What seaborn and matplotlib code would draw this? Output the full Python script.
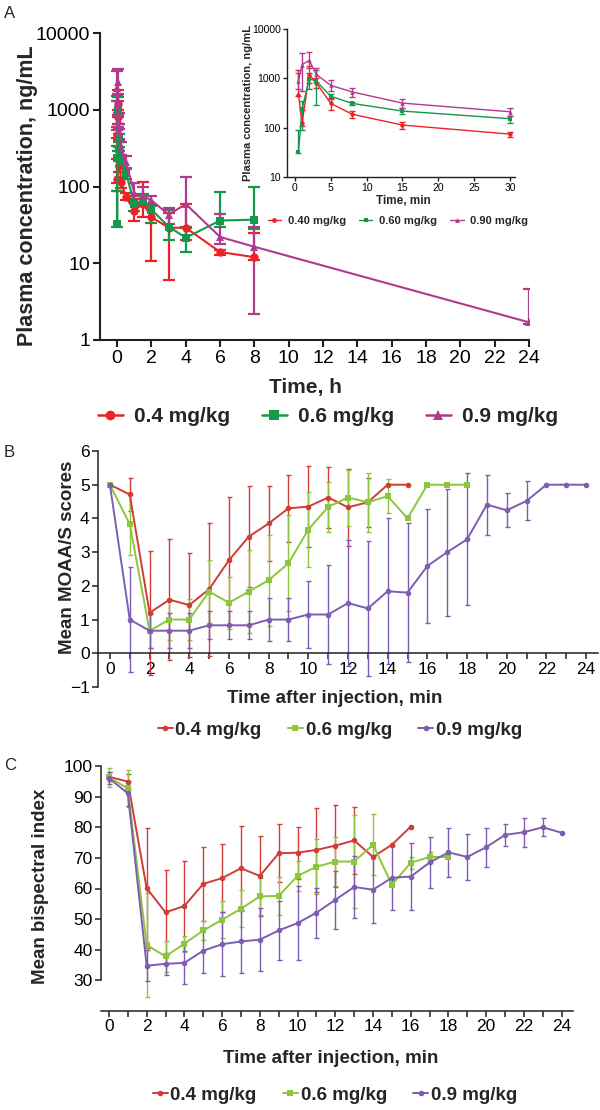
import numpy as np
import pandas as pd
import matplotlib
matplotlib.use('Agg')
import matplotlib.pyplot as plt
from matplotlib.lines import Line2D
from matplotlib.ticker import FixedLocator, MultipleLocator, NullLocator, FuncFormatter
import seaborn as sns

# ---------------- Panel A data (plasma concentration, ng/mL) ----------------
doses_a = ['0.4 mg/kg', '0.6 mg/kg', '0.9 mg/kg']
doses_inset = ['0.40 mg/kg', '0.60 mg/kg', '0.90 mg/kg']
t_min = [0.5, 1, 2, 3, 5, 8, 15, 30]            # minutes (inset + early points)
t_hours = [1, 1.5, 2, 3, 4, 6, 8]               # hours (0.4 and 0.6 mg/kg)
t_hours_09 = [1, 1.5, 2, 3, 4, 6, 8, 24]        # hours (0.9 mg/kg)

red_min = [470, 125, 1180, 810, 310, 187, 113, 74]
red_min_lo = [430, 110, 800, 650, 230, 155, 95, 66]
red_min_hi = [1500, 230, 1800, 1000, 400, 215, 130, 82]
green_min = [32, 235, 990, 870, 435, 310, 217, 152]
green_min_lo = [30, 88, 600, 290, 380, 290, 185, 125]
green_min_hi = [88, 340, 1300, 1450, 490, 330, 245, 175]
mag_min = [900, 1900, 2300, 1200, 720, 530, 315, 210]
mag_min_lo = [600, 550, 1600, 850, 560, 420, 255, 170]
mag_min_hi = [1300, 3200, 3400, 1600, 920, 650, 375, 250]

red_h = [48, 60, 40, 29, 29, 14, 12]
red_h_lo = [36, 40, 10.8, 6, 20, 13, 11]
red_h_hi = [68, 115, 58, 45, 60, 15, 25]
green_h = [60, 65, 50, 30, 21.5, 36, 37]
green_h_lo = [48, 55, 33, 20, 14, 30, 28]
green_h_hi = [75, 80, 58, 50, 30, 84, 100]
mag_h = [82, 75, 66, 43, 59, 22, 16.4, 1.7]
mag_h_lo = [62, 60, 55, 32, 29, 18, 2.2, 1.6]
mag_h_hi = [112, 100, 75, 52, 133, 44, 30, 4.6]

# ---------------- Panel B data (MOAA/S scores) ----------------
doses_bc = ['0.4 mg/kg', '0.6 mg/kg', '0.9 mg/kg']
t_b_red = list(range(0, 16))
t_b_green = list(range(0, 19))
t_b_purple = list(range(0, 25))
moaas_red = [5.0, 4.71, 1.2, 1.59, 1.43, 1.9, 2.76, 3.46, 3.85, 4.3, 4.35, 4.62, 4.33, 4.48, 5.0, 5.0]
moaas_red_sd = [0, 0.5, 1.83, 1.79, 1.53, 1.97, 1.88, 1.5, 1.1, 1.0, 1.2, 0.9, 1.15, 0.72, 0, 0]
moaas_green = [5.0, 3.83, 0.67, 1.0, 1.0, 1.83, 1.5, 1.83, 2.17, 2.67, 3.67, 4.34, 4.62, 4.48, 4.66, 4.0, 5.0, 5.0, 5.0]
moaas_green_sd = [0, 0.9, 0.5, 0.6, 0.6, 0.93, 0.77, 1.23, 1.35, 1.43, 1.12, 0.74, 0.83, 0.88, 0.5, 0, 0, 0, 0]
moaas_purple = [5.0, 1.0, 0.67, 0.67, 0.67, 0.83, 0.83, 0.83, 1.0, 1.0, 1.15, 1.15, 1.49, 1.33, 1.84, 1.8,
                2.59, 3.0, 3.38, 4.41, 4.24, 4.52, 5.0, 5.0, 5.0]
moaas_purple_sd = [0, 1.55, 0.52, 0.52, 0.52, 0.41, 0.41, 0.41, 0.63, 0.63, 1.0, 1.48, 1.88, 2.0, 2.16, 2.05,
                   1.7, 1.88, 1.96, 0.89, 0.5, 0.58, 0, 0, 0]

# ---------------- Panel C data (bispectral index) ----------------
t_c_red = list(range(0, 17))
t_c_green = list(range(0, 19))
t_c_purple = list(range(0, 25))
bis_red = [96.5, 94.9, 60.1, 52.2, 54.3, 61.5, 63.4, 66.6, 64.1, 71.5, 71.7, 72.6, 74.0, 75.7, 70.3, 74.3, 80.2]
bis_red_sd = [1.5, 2.5, 19.5, 14.0, 14.7, 12.2, 11.2, 13.8, 13.0, 9.5, 8.5, 13.6, 13.4, 10.9, 0, 0, 0]
bis_green = [96.3, 92.7, 41.6, 37.8, 42.0, 46.3, 49.8, 53.4, 57.4, 57.6, 64.1, 67.1, 68.8, 68.8, 74.3, 61.2,
             68.4, 70.3, 70.3]
bis_green_sd = [3.0, 6.0, 17.0, 5.0, 2.6, 3.0, 6.0, 6.0, 6.0, 6.3, 5.0, 9.0, 8.0, 15.3, 10.0, 0, 2.0, 1.5, 0]
bis_purple = [96.0, 91.1, 34.8, 35.4, 35.7, 39.7, 41.8, 42.7, 43.3, 46.3, 48.7, 52.1, 56.3, 60.5, 59.6, 63.5,
              63.9, 68.5, 71.8, 70.3, 73.5, 77.5, 78.4, 80.0, 78.2]
bis_purple_sd = [2.0, 4.0, 5.0, 3.5, 6.8, 7.2, 10.4, 10.2, 10.3, 9.5, 12.2, 8.2, 9.5, 10.0, 11.0, 10.5,
                 10.8, 8.4, 8.0, 7.5, 6.4, 3.6, 4.7, 3.0, 0]

# ---------------- styling ----------------
col_a = ['#ec2227', '#14994a', '#b03a8e']
mk_a = ['o', 's', '^']
col_bc = ['#d03c36', '#8cc63f', '#7d5cb2']
mk_bc = ['o', 's', 'o']
spine_col = '#231f20'

sns.set_style('ticks')
plt.rcParams['font.family'] = ['Liberation Sans', 'DejaVu Sans']
plt.rcParams['axes.edgecolor'] = spine_col
plt.rcParams['xtick.color'] = spine_col
plt.rcParams['ytick.color'] = spine_col
plt.rcParams['xtick.labelcolor'] = 'black'
plt.rcParams['ytick.labelcolor'] = 'black'

W, H = 600, 1110
fig = plt.figure(figsize=(W / 100, H / 100), dpi=100)


def axes_px(l, t, r, b):
    return fig.add_axes([l / W, 1 - b / H, (r - l) / W, (b - t) / H])


def long_df(times, values, names):
    rows = []
    for tt, vv, nn in zip(times, values, names):
        for a, b in zip(tt, vv):
            rows.append({'t': a, 'v': b, 'dose': nn})
    return pd.DataFrame(rows)


# ============================ Panel A main ============================
axA = axes_px(100, 33, 529, 340)
tA_red = [m / 60 for m in t_min] + t_hours
tA_green = [m / 60 for m in t_min] + t_hours
tA_mag = [m / 60 for m in t_min] + t_hours_09
vA = [red_min + red_h, green_min + green_h, mag_min + mag_h]
loA = [red_min_lo + red_h_lo, green_min_lo + green_h_lo, mag_min_lo + mag_h_lo]
hiA = [red_min_hi + red_h_hi, green_min_hi + green_h_hi, mag_min_hi + mag_h_hi]
tA = [tA_red, tA_green, tA_mag]
dfA = long_df(tA, vA, doses_a)
axA.set_yscale('log')
for i in range(3):
    v = np.array(vA[i]); lo = np.array(loA[i]); hi = np.array(hiA[i])
    axA.errorbar(tA[i], v, yerr=[v - lo, hi - v], fmt='none', ecolor=col_a[i],
                 elinewidth=1.6, capsize=4, capthick=1.6, zorder=2)
sns.lineplot(data=dfA, x='t', y='v', hue='dose', style='dose', hue_order=doses_a, style_order=doses_a,
             palette=dict(zip(doses_a, col_a)), markers=dict(zip(doses_a, mk_a)), dashes=False,
             estimator=None, sort=True, legend=False, ax=axA, linewidth=1.5, markersize=6,
             markeredgewidth=0, zorder=3)
axA.set_xlim(-1, 24)
axA.set_ylim(1, 10000)
axA.xaxis.set_major_locator(MultipleLocator(2))
axA.yaxis.set_major_locator(FixedLocator([1, 10, 100, 1000, 10000]))
axA.yaxis.set_minor_locator(NullLocator())
axA.yaxis.set_major_formatter(FuncFormatter(lambda v, p: f'{int(round(v))}'))
axA.tick_params(axis='both', labelsize=14, length=5, width=1.5, direction='out', pad=2)
for s in ['top', 'right']:
    axA.spines[s].set_visible(False)
for s in ['left', 'bottom']:
    axA.spines[s].set_linewidth(1.5)
axA.set_xlabel('Time, h', fontsize=15, fontweight='bold')
axA.set_ylabel('Plasma concentration, ng/mL', fontsize=15.5, fontweight='bold')
axA.xaxis.set_label_coords(0.48, -0.125)
axA.yaxis.set_label_coords(-0.145, 0.47)

handlesA = [Line2D([], [], color=col_a[i], marker=mk_a[i], markersize=7, linewidth=1.8, markeredgewidth=0)
            for i in range(3)]
fig.legend(handlesA, doses_a, loc='center', bbox_to_anchor=(328 / W, 1 - 417 / H), ncol=3, frameon=False,
           prop={'size': 15, 'weight': 'bold'}, handlelength=1.2, handletextpad=0.55, columnspacing=1.5,
           borderpad=0)

# ============================ Panel A inset ============================
axI = axes_px(287, 29, 515, 177)
axI.set_facecolor('none')
vI = [red_min, green_min, mag_min]
loI = [red_min_lo, green_min_lo, mag_min_lo]
hiI = [red_min_hi, green_min_hi, mag_min_hi]
dfI = long_df([t_min] * 3, vI, doses_inset)
axI.set_yscale('log')
for i in range(3):
    v = np.array(vI[i]); lo = np.array(loI[i]); hi = np.array(hiI[i])
    axI.errorbar(t_min, v, yerr=[v - lo, hi - v], fmt='none', ecolor=col_a[i],
                 elinewidth=1.0, capsize=2.5, capthick=1.0, zorder=2)
sns.lineplot(data=dfI, x='t', y='v', hue='dose', style='dose', hue_order=doses_inset, style_order=doses_inset,
             palette=dict(zip(doses_inset, col_a)), markers=dict(zip(doses_inset, mk_a)), dashes=False,
             estimator=None, sort=True, legend=False, ax=axI, linewidth=1.0, markersize=3.2,
             markeredgewidth=0, zorder=3)
axI.set_xlim(-1.1, 30.7)
axI.set_ylim(10, 10000)
axI.xaxis.set_major_locator(FixedLocator([0, 5, 10, 15, 20, 25, 30]))
axI.yaxis.set_major_locator(FixedLocator([10, 100, 1000, 10000]))
axI.yaxis.set_minor_locator(NullLocator())
axI.yaxis.set_major_formatter(FuncFormatter(lambda v, p: f'{int(round(v))}'))
axI.tick_params(axis='both', labelsize=7.5, length=3, width=1.0, pad=1.5)
for s in ['top', 'right']:
    axI.spines[s].set_visible(False)
for s in ['left', 'bottom']:
    axI.spines[s].set_linewidth(1.0)
axI.set_xlabel('Time, min', fontsize=8.5, fontweight='bold')
axI.set_ylabel('Plasma concentration, ng/mL', fontsize=8, fontweight='bold')
axI.xaxis.set_label_coords(0.509, -0.125)
axI.yaxis.set_label_coords(-0.15, 0.5)
handlesI = [Line2D([], [], color=col_a[i], marker=mk_a[i], markersize=3.5, linewidth=1.0, markeredgewidth=0)
            for i in range(3)]
fig.legend(handlesI, doses_inset, loc='center', bbox_to_anchor=(398 / W, 1 - 221 / H), ncol=3, frameon=False,
           prop={'size': 8, 'weight': 'bold'}, handlelength=1.2, handletextpad=0.6, columnspacing=1.2,
           borderpad=0)

# ============================ Panel B ============================
axB = axes_px(98, 451, 598, 687)
tB = [t_b_red, t_b_green, t_b_purple]
vB = [moaas_red, moaas_green, moaas_purple]
sB = [moaas_red_sd, moaas_green_sd, moaas_purple_sd]
dfB = long_df(tB, vB, doses_bc)
for i in range(3):
    sd = np.array(sB[i]); m = sd > 0
    axB.errorbar(np.array(tB[i])[m], np.array(vB[i])[m], yerr=sd[m], fmt='none', ecolor=col_bc[i],
                 elinewidth=1.0, capsize=1.8, capthick=1.0, zorder=2, clip_on=False)
sns.lineplot(data=dfB, x='t', y='v', hue='dose', style='dose', hue_order=doses_bc, style_order=doses_bc,
             palette=dict(zip(doses_bc, col_bc)), markers=dict(zip(doses_bc, mk_bc)), dashes=False,
             estimator=None, sort=True, legend=False, ax=axB, linewidth=1.4, markersize=4,
             markeredgewidth=0, zorder=3)
axB.set_xlim(-0.6, 24.6)
axB.set_ylim(-1, 6)
axB.spines['bottom'].set_position(('data', 0))
for s in ['top', 'right']:
    axB.spines[s].set_visible(False)
axB.xaxis.set_major_locator(MultipleLocator(2))
axB.xaxis.set_minor_locator(MultipleLocator(1))
axB.yaxis.set_major_locator(MultipleLocator(1))
axB.tick_params(axis='both', which='major', labelsize=12.5, length=4, width=1.1, pad=2)
axB.tick_params(axis='x', which='minor', length=4, width=1.1)
for s in ['left', 'bottom']:
    axB.spines[s].set_linewidth(1.1)
axB.set_xlabel('Time after injection, min', fontsize=13.5, fontweight='bold')
axB.set_ylabel('Mean MOAA/S scores', fontsize=13.5, fontweight='bold')
axB.xaxis.set_label_coords(0.474, -0.012)
axB.yaxis.set_label_coords(-0.044, 0.55)
handlesB = [Line2D([], [], color=col_bc[i], marker=mk_bc[i], markersize=4, linewidth=1.4, markeredgewidth=0)
            for i in range(3)]
fig.legend(handlesB, doses_bc, loc='center', bbox_to_anchor=(340 / W, 1 - 730 / H), ncol=3, frameon=False,
           prop={'size': 13.5, 'weight': 'bold'}, handlelength=0.8, handletextpad=0.15, columnspacing=1.4,
           borderpad=0)

# ============================ Panel C ============================
axC = axes_px(101, 766, 573, 1011)
tC = [t_c_red, t_c_green, t_c_purple]
vC = [bis_red, bis_green, bis_purple]
sC = [bis_red_sd, bis_green_sd, bis_purple_sd]
dfC = long_df(tC, vC, doses_bc)
for i in range(3):
    sd = np.array(sC[i]); m = sd > 0
    axC.errorbar(np.array(tC[i])[m], np.array(vC[i])[m], yerr=sd[m], fmt='none', ecolor=col_bc[i],
                 elinewidth=1.0, capsize=1.8, capthick=1.0, zorder=2)
sns.lineplot(data=dfC, x='t', y='v', hue='dose', style='dose', hue_order=doses_bc, style_order=doses_bc,
             palette=dict(zip(doses_bc, col_bc)), markers=dict(zip(doses_bc, mk_bc)), dashes=False,
             estimator=None, sort=True, legend=False, ax=axC, linewidth=1.4, markersize=4,
             markeredgewidth=0, zorder=3)
axC.set_xlim(-0.42, 24.6)
axC.set_ylim(20, 100)
axC.spines['left'].set_bounds(30, 100)
for s in ['top', 'right']:
    axC.spines[s].set_visible(False)
axC.yaxis.set_major_locator(FixedLocator([30, 40, 50, 60, 70, 80, 90, 100]))
axC.xaxis.set_major_locator(MultipleLocator(2))
axC.xaxis.set_minor_locator(MultipleLocator(1))
axC.tick_params(axis='both', which='major', labelsize=12.5, length=4, width=1.1, pad=2)
axC.tick_params(axis='x', which='minor', length=4, width=1.1)
for s in ['left', 'bottom']:
    axC.spines[s].set_linewidth(1.1)
axC.set_xlabel('Time after injection, min', fontsize=13.5, fontweight='bold')
axC.set_ylabel('Mean bispectral index', fontsize=13.5, fontweight='bold')
axC.xaxis.set_label_coords(0.487, -0.16)
axC.yaxis.set_label_coords(-0.11, 0.51)
fig.legend(handlesB, doses_bc, loc='center', bbox_to_anchor=(335 / W, 1 - 1095 / H), ncol=3, frameon=False,
           prop={'size': 13.5, 'weight': 'bold'}, handlelength=0.8, handletextpad=0.15, columnspacing=1.4,
           borderpad=0)

# panel letters
fig.text(10 / W, 1 - 13 / H, 'A', fontsize=12, ha='center', va='center')
fig.text(9 / W, 1 - 452 / H, 'B', fontsize=12, ha='center', va='center')
fig.text(10 / W, 1 - 765 / H, 'C', fontsize=12, ha='center', va='center')

fig.savefig('out.png', dpi=100)
